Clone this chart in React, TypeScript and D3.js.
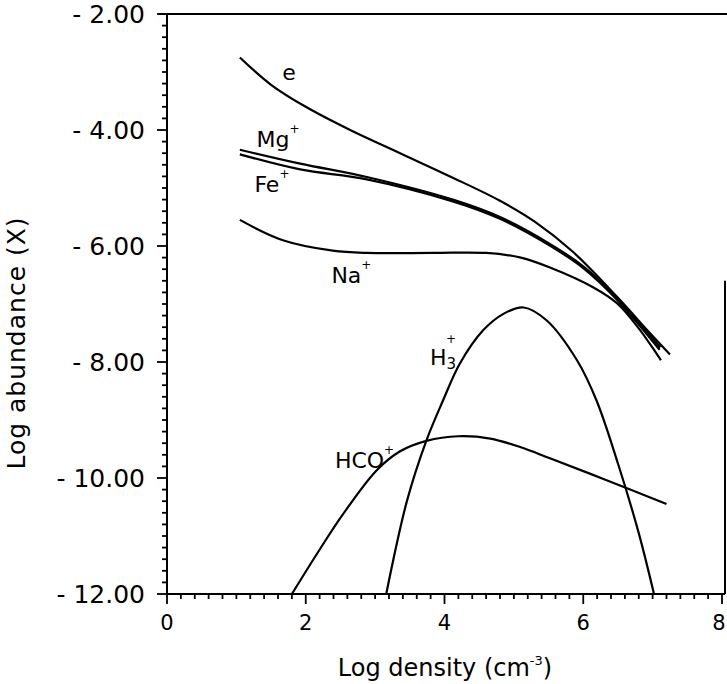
import React from "react";
import * as d3 from "d3";

const W = 727;
const H = 684;

// axis ticks
const xMajor = [0, 2, 4, 6, 8];
const xTickLabels = ["0", "2", "4", "6", "8"];
const yMajor = [-2, -4, -6, -8, -10, -12];
const yTickLabels = ["- 2.00", "- 4.00", "- 6.00", "- 8.00", "- 10.00", "- 12.00"];

// e
const eDensity = [1.05, 1.5, 2.0, 2.64, 3.36, 4.08, 4.8, 5.3, 5.85, 6.49, 6.96, 7.25];
const eAbund = [-2.75, -3.22, -3.6, -4.0, -4.4, -4.8, -5.22, -5.58, -6.1, -6.88, -7.5, -7.87];

// Mg+
const mgDensity = [1.05, 1.92, 2.88, 4.12, 4.8, 5.5, 6.0, 6.49, 7.11];
const mgAbund = [-4.34, -4.58, -4.81, -5.2, -5.5, -5.95, -6.35, -6.9, -7.75];

// Fe+
const feDensity = [1.05, 1.92, 2.88, 4.12, 4.8, 5.5, 6.0, 6.49, 7.1];
const feAbund = [-4.42, -4.68, -4.85, -5.23, -5.53, -5.98, -6.38, -6.93, -7.79];

// Na+
const naDensity = [1.05, 1.67, 2.39, 2.88, 3.83, 4.6, 5.1, 5.52, 6.14, 6.49, 6.8, 7.12];
const naAbund = [-5.55, -5.9, -6.08, -6.12, -6.12, -6.12, -6.2, -6.37, -6.71, -6.99, -7.42, -7.97];

// H3+
const h3Density = [3.16, 3.46, 3.74, 3.98, 4.22, 4.56, 4.85, 5.14, 5.47, 5.91, 6.19, 6.5, 6.8, 7.02];
const h3Abund = [-12.0, -10.39, -9.35, -8.66, -8.03, -7.45, -7.17, -7.06, -7.28, -7.97, -8.66, -9.75, -10.95, -12.0];

// HCO+
const hcoDensity = [1.8, 2.16, 2.54, 3.02, 3.36, 3.74, 4.2, 4.66, 5.1, 5.52, 6.3, 7.2];
const hcoAbund = [-12.0, -11.31, -10.62, -9.87, -9.54, -9.36, -9.28, -9.32, -9.47, -9.66, -10.02, -10.45];

const series = [
  [eDensity, eAbund],
  [mgDensity, mgAbund],
  [feDensity, feAbund],
  [naDensity, naAbund],
  [h3Density, h3Abund],
  [hcoDensity, hcoAbund],
];

const FONT = "'DejaVu Sans', sans-serif";

const App = () => {
  const x = d3.scaleLinear().domain([0, 8]).range([167, 722]);
  const y = d3.scaleLinear().domain([-2, -12]).range([14, 594]);

  const line = d3
    .line<[number, number]>()
    .x(d => x(d[0]))
    .y(d => y(d[1]))
    .curve(d3.curveCatmullRom.alpha(0.5));

  const xMinor = d3.range(0, 8.001, 0.2);
  const yMinor = d3.range(-2, -12.001, -0.2);

  const x0 = x(0);
  const yb = y(-12);

  return (
    <svg
      width={W}
      height={H}
      style={{position: "absolute", left: 0, top: 0, background: "#fff"}}
      fontFamily={FONT}
    >
      <rect width={W} height={H} fill="#fff"/>
      {/* frame */}
      <g stroke="#000" strokeWidth={2} fill="none">
        <line x1={x0 - 8} x2={W} y1={y(-2)} y2={y(-2)}/>
        <line x1={x0} x2={x0} y1={y(-2)} y2={yb}/>
        <line x1={x0} x2={x(8) + 3} y1={yb} y2={yb}/>
        <line x1={x(8) + 3} x2={x(8) + 3} y1={y(-6.6)} y2={yb}/>
      </g>

      {/* y ticks */}
      <g stroke="#000" strokeWidth={1.8}>
        {yMinor.map((v, i) => (
          <line key={i} x1={x0} x2={x0 - (i % 10 === 0 ? 10 : 5)} y1={y(v)} y2={y(v)}/>
        ))}
      </g>
      {/* x ticks */}
      <g stroke="#000" strokeWidth={1.8}>
        {xMinor.map((v, i) => (
          <line key={i} x1={x(v)} x2={x(v)} y1={yb} y2={yb + (i % 10 === 0 ? 10 : 5)}/>
        ))}
      </g>

      {yMajor.map((v, i) => (
        <text key={i} x={x0 - 22} y={y(v)} dy="0.36em" textAnchor="end" fontSize={25}
              style={{whiteSpace: "pre"}}>
          {yTickLabels[i]}
        </text>
      ))}
      {xMajor.map((v, i) => (
        <text key={i} x={Math.min(x(v), 719)} y={630} textAnchor="middle" fontSize={21}>
          {xTickLabels[i]}
        </text>
      ))}

      {/* curves */}
      <g fill="none" stroke="#000" strokeWidth={2.2}>
        {series.map(([xs, ys], i) => (
          <path key={i} d={line(xs.map((d, j) => [d, ys[j]] as [number, number])) || ""}/>
        ))}
      </g>

      {/* curve labels */}
      <g fontSize={22}>
        <text x={x(1.66)} y={y(-3.14)}>e</text>
        <text x={x(1.29)} y={y(-4.29)}>Mg<tspan fontSize={12} dy={-14}>+</tspan></text>
        <text x={x(1.26)} y={y(-5.07)}>Fe<tspan fontSize={12} dy={-14}>+</tspan></text>
        <text x={x(2.37)} y={y(-6.64)}>Na<tspan fontSize={12} dy={-14}>+</tspan></text>
        <text x={x(3.79)} y={y(-8.06)}>H<tspan fontSize={15} dy={4}>3</tspan>
          <tspan fontSize={12} dx={-10} dy={-26}>+</tspan></text>
        <text x={x(2.42)} y={y(-9.82)}>HCO<tspan fontSize={12} dy={-14}>+</tspan></text>
      </g>

      {/* axis titles */}
      <text x={445} y={676} textAnchor="middle" fontSize={24}>
        Log density (cm<tspan fontSize={13} dy={-11}>-3</tspan><tspan dy={11}>)</tspan>
      </text>
      <text transform="translate(25,343) rotate(-90)" textAnchor="middle" fontSize={25}
            letterSpacing={1}>
        Log abundance (X)
      </text>
    </svg>
  );
};

export default App;
